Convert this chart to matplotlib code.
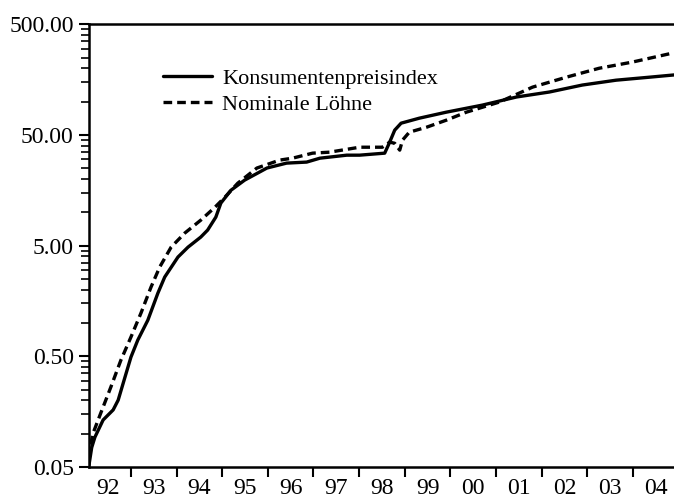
import numpy as np
import matplotlib
matplotlib.use("Agg")
import matplotlib.pyplot as plt
from matplotlib.ticker import FixedLocator, FixedFormatter, NullFormatter

# Konsumentenpreisindex (log scale), x = year
cpi_years = [1992.08, 1992.14, 1992.21, 1992.39, 1992.61, 1992.72, 1992.87, 1993.00,
             1993.15, 1993.37, 1993.59, 1993.74, 1994.03, 1994.25, 1994.53, 1994.68,
             1994.86, 1994.97, 1995.19, 1995.49, 1995.98, 1996.41, 1996.85, 1997.14,
             1997.73, 1998.01, 1998.56, 1998.66, 1998.78, 1998.92, 1999.32, 1999.91,
             2000.70, 2001.45, 2002.17, 2002.89, 2003.63, 2004.36, 2004.90]
cpi = [0.052, 0.075, 0.093, 0.133, 0.164, 0.201, 0.325, 0.492,
       0.701, 1.06, 1.86, 2.60, 3.94, 4.84, 5.97, 6.90,
       9.04, 12.1, 15.8, 19.5, 25.1, 27.8, 28.4, 30.8,
       32.8, 32.8, 34.2, 42.1, 55.2, 63.8, 70.8, 80.2,
       92.9, 110, 122, 141, 156, 166, 174]

# Nominale Löhne
wage_years = [1992.12, 1992.17, 1992.34, 1992.56, 1992.78, 1993.00, 1993.22, 1993.44,
              1993.63, 1993.88, 1994.18, 1994.53, 1994.84, 1995.06, 1995.34, 1995.76,
              1996.26, 1996.54, 1996.98, 1997.35, 1998.01, 1998.51, 1998.67, 1998.78,
              1998.89, 1998.95, 1999.10, 1999.48, 1999.91, 2000.35, 2001.07, 2001.80,
              2002.54, 2003.26, 2003.98, 2004.90]
wage = [0.080, 0.101, 0.154, 0.264, 0.462, 0.746, 1.23, 2.11,
        3.20, 4.84, 6.49, 8.49, 11.1, 13.7, 18.3, 25.1,
        29.6, 30.8, 34.2, 34.9, 38.7, 38.7, 43.0, 42.0,
        36.4, 44.8, 52.9, 58.7, 67.9, 80.2, 98.9, 135,
        166, 200, 227, 276]

year_labels = ["92", "93", "94", "95", "96", "97", "98", "99", "00", "01", "02", "03", "04"]
y_ticks = [0.05, 0.5, 5, 50, 500]
y_labels = ["0.05", "0.50", "5.00", "50.00", "500.00"]

plt.rcParams["font.family"] = ["Liberation Serif", "DejaVu Serif"]

fig = plt.figure(figsize=(6.74, 5.04), dpi=100)
ax = fig.add_axes([0.132, 0.0734, 0.868, 0.8786])

ax.plot(cpi_years, cpi, color="black", lw=2.4, solid_capstyle="round",
        solid_joinstyle="round", label="Konsumentenpreisindex")
ax.plot(wage_years, wage, color="black", lw=2.4, dashes=(2.6, 1.5),
        label="Nominale Löhne")

ax.set_yscale("log")
ax.set_ylim(0.05, 500)
ax.set_xlim(1992.08, 2004.9)

ax.yaxis.set_major_locator(FixedLocator(y_ticks))
ax.yaxis.set_major_formatter(FixedFormatter(y_labels))
minor = [b * k for b in [0.05, 0.5, 5, 50] for k in range(2, 10)]
ax.yaxis.set_minor_locator(FixedLocator(minor))
ax.yaxis.set_minor_formatter(NullFormatter())

ax.xaxis.set_major_locator(FixedLocator(np.arange(1993, 2005)))
ax.xaxis.set_major_formatter(NullFormatter())
ax.xaxis.set_minor_locator(FixedLocator(np.arange(1992.5, 2005, 1.0)))
ax.xaxis.set_minor_formatter(FixedFormatter(year_labels))

ax.tick_params(axis="y", which="major", direction="out", length=7, width=1.5,
               labelsize=17, pad=4)
ax.tick_params(axis="y", which="minor", direction="out", length=6, width=1.2)
ax.tick_params(axis="x", which="major", direction="out", length=7.5, width=1.5)
ax.tick_params(axis="x", which="minor", length=0, labelsize=17, pad=8)

for side in ["left", "bottom", "top"]:
    ax.spines[side].set_linewidth(1.8)
ax.spines["right"].set_visible(False)

ax.legend(loc="upper left", bbox_to_anchor=(0.112, 0.921), frameon=False,
          fontsize=16, handlelength=2.2, handletextpad=0.45, labelspacing=0.25,
          borderaxespad=0)

fig.savefig("out.png", dpi=100)
